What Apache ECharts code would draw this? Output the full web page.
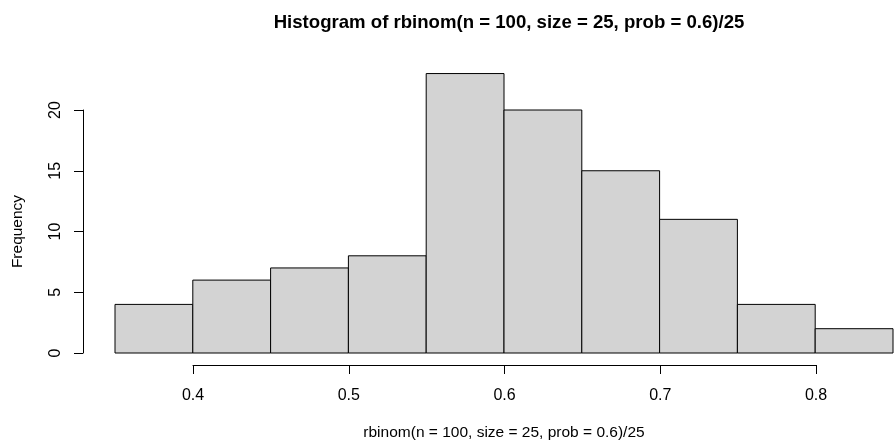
<!DOCTYPE html>
<html>
<head>
<meta charset="utf-8">
<script src="https://cdn.jsdelivr.net/npm/echarts@6/dist/echarts.min.js"></script>
<style>
  html, body { margin: 0; padding: 0; background: #fff; }
  #chart { width: 894px; height: 441px; }
</style>
</head>
<body>
<div id="chart"></div>
<script>
// histogram bins (left/right edges) and counts
var binStarts = [0.35, 0.40, 0.45, 0.50, 0.55, 0.60, 0.65, 0.70, 0.75, 0.80];
var binEnds = [0.40, 0.45, 0.50, 0.55, 0.60, 0.65, 0.70, 0.75, 0.80, 0.85];
var counts = [4, 6, 7, 8, 23, 20, 15, 11, 4, 2];
var xTicks = [0.4, 0.5, 0.6, 0.7, 0.8];
var yTicks = [0, 5, 10, 15, 20];

var font = "Liberation Sans, Arial, sans-serif";

var barData = [];
for (var i = 0; i < counts.length; i++) {
  barData.push([binStarts[i], binEnds[i], counts[i]]);
}

var myChart = echarts.init(document.getElementById('chart'));

var option = {
  animation: false,
  backgroundColor: '#fff',
  title: {
    text: 'Histogram of rbinom(n = 100, size = 25, prob = 0.6)/25',
    left: 504,
    top: 8,
    textAlign: 'center',
    textStyle: { fontFamily: font, fontSize: 18.6, fontWeight: 'bold', color: '#000' }
  },
  grid: [
    // bars
    { left: 115, right: 1, top: 110, bottom: 88, outerBoundsMode: 'none' },
    // x axis, only from 0.4 to 0.8, a bit below the bars (R style)
    { left: 193, right: 78, top: 110, bottom: 76, outerBoundsMode: 'none' }
  ],
  xAxis: [
    {
      type: 'value', gridIndex: 0, min: 0.35, max: 0.85,
      axisLine: { show: false }, axisTick: { show: false },
      axisLabel: { show: false }, splitLine: { show: false },
      name: 'rbinom(n = 100, size = 25, prob = 0.6)/25',
      nameLocation: 'middle', nameGap: 72,
      nameTextStyle: { fontFamily: font, fontSize: 15.5, color: '#000' }
    },
    {
      type: 'value', gridIndex: 1, min: 0.4, max: 0.8, interval: 0.1,
      position: 'bottom',
      axisLine: { show: true, onZero: false, lineStyle: { color: '#000', width: 1 } },
      axisTick: { show: true, inside: false, length: 9, lineStyle: { color: '#000' } },
      axisLabel: {
        fontFamily: font, fontSize: 16, color: '#000', margin: 23,
        showMinLabel: true, showMaxLabel: true,
        formatter: function (v) {
          var t = xTicks.filter(function (x) { return Math.abs(x - v) < 1e-9; });
          return t.length ? String(t[0]) : '';
        }
      },
      splitLine: { show: false }
    }
  ],
  yAxis: [
    {
      type: 'value', gridIndex: 0, min: 0, max: 20, interval: 5,
      offset: 32,
      axisLine: { show: true, lineStyle: { color: '#000', width: 1 } },
      axisTick: { show: true, length: 9, lineStyle: { color: '#000' } },
      axisLabel: {
        fontFamily: font, fontSize: 16, color: '#000', margin: 19, rotate: 90,
        formatter: function (v) {
          return yTicks.indexOf(v) >= 0 ? String(v) : '';
        }
      },
      splitLine: { show: false },
      name: 'Frequency', nameLocation: 'middle', nameGap: 57,
      nameTextStyle: { fontFamily: font, fontSize: 15.5, color: '#000' }
    },
    {
      type: 'value', gridIndex: 1, min: 0, max: 20, show: false
    }
  ],
  series: [
    {
      type: 'custom',
      xAxisIndex: 0,
      yAxisIndex: 0,
      clip: false,
      data: barData,
      renderItem: function (params, api) {
        var p0 = api.coord([api.value(0), 0]);
        var p1 = api.coord([api.value(1), api.value(2)]);
        return {
          type: 'rect',
          shape: { x: p0[0], y: p1[1], width: p1[0] - p0[0], height: p0[1] - p1[1] },
          style: { fill: '#d3d3d3', stroke: '#000', lineWidth: 1 }
        };
      }
    }
  ]
};

myChart.setOption(option);
</script>
</body>
</html>
